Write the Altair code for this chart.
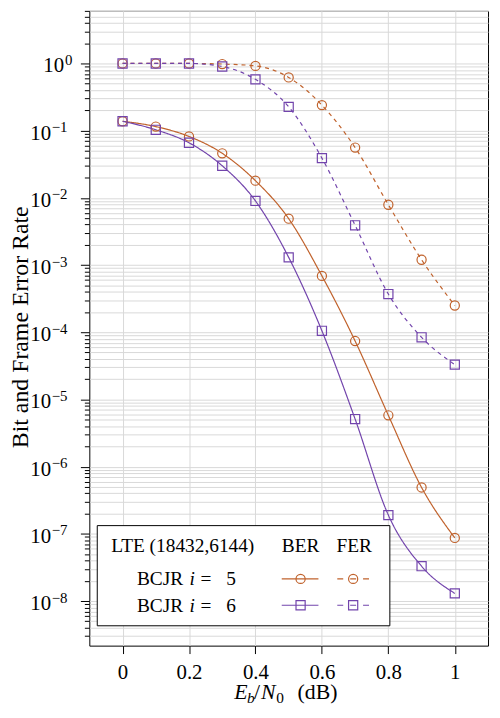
import altair as alt
import pandas as pd

# ---------------- data ----------------
ebn0 = [0.0, 0.1, 0.2, 0.3, 0.4, 0.5, 0.6, 0.7, 0.8, 0.9, 1.0]
ber_i5 = [0.138, 0.115, 0.082, 0.046, 0.018, 0.0049, 6.9e-4, 7.4e-5, 5.8e-6, 4.9e-7, 8.7e-8]
ber_i6 = [0.138, 0.103, 0.066, 0.030, 0.009, 0.0013, 1.05e-4, 5.1e-6, 1.9e-7, 3.3e-8, 1.3e-8]
fer_i5 = [1.0, 1.0, 1.0, 0.98, 0.92, 0.62, 0.24, 0.056, 0.0079, 0.0012, 2.5e-4]
fer_i6 = [1.0, 1.0, 1.0, 0.90, 0.58, 0.226, 0.039, 0.0039, 3.7e-4, 8.4e-5, 3.3e-5]
x_ticks = [0, 0.2, 0.4, 0.6, 0.8, 1.0]
decade_exps = [0, -1, -2, -3, -4, -5, -6, -7, -8]
legend_title = "LTE (18432,6144)"
legend_rows = ["5", "6"]

ORANGE = "#c0622c"
PURPLE = "#7244ac"
FONT = "Liberation Serif"
Y_LO, Y_HI = 2.17e-9, 6.06

rows = []
for code, metric, vals in [("i5", "BER", ber_i5), ("i6", "BER", ber_i6),
                           ("i5", "FER", fer_i5), ("i6", "FER", fer_i6)]:
    for x, v in zip(ebn0, vals):
        rows.append({"x": x, "v": v, "code": code, "metric": metric, "key": code + metric})
df = pd.DataFrame(rows)

lab = pd.DataFrame({"v": [10.0 ** e for e in decade_exps],
                    "sup": ["0" if e == 0 else "\u2212" + str(-e) for e in decade_exps],
                    "e": decade_exps})

minor_vals = []
for e in range(-9, 1):
    for k in range(1, 10):
        val = k * 10.0 ** e
        if Y_LO <= val <= Y_HI:
            minor_vals.append(val)

xs = alt.X("x:Q", scale=alt.Scale(domain=[-0.1, 1.1], nice=False, zero=False),
           axis=alt.Axis(values=x_ticks, title=None, format="~g", grid=True, domain=False,
                         tickSize=8, tickColor="black", labelPadding=8, labelFontSize=21,
                         labelFont=FONT, labelColor="black", gridColor="#d9d9d9"))
ys = alt.Y("v:Q", scale=alt.Scale(type="log", domain=[Y_LO, Y_HI], nice=False),
           axis=alt.Axis(values=minor_vals, labels=False, title=None, grid=True, domain=False,
                         tickColor="black", gridColor="#d9d9d9",
                         tickSize={"condition": {"test": "abs(log(datum.value)/LN10 - round(log(datum.value)/LN10)) < 0.001", "value": 9}, "value": 5}))

color = alt.Color("code:N", scale=alt.Scale(domain=["i5", "i6"], range=[ORANGE, PURPLE]), legend=None)
dash = alt.StrokeDash("metric:N", scale=alt.Scale(domain=["BER", "FER"], range=[[1, 0], [4, 4]]), legend=None)
shape = alt.Shape("code:N", scale=alt.Scale(domain=["i5", "i6"], range=["circle", "square"]), legend=None)

lines = alt.Chart(df).mark_line(interpolate="monotone", strokeWidth=1.2).encode(
    x=xs, y=ys, color=color, strokeDash=dash, detail="key:N")
points = alt.Chart(df).mark_point(filled=False, size=85, strokeWidth=1.2, opacity=1).encode(
    x=xs, y=ys, color=color, shape=shape)

# y tick labels 10^k
lab0 = alt.Chart(lab).transform_filter("datum.e == 0")
labn = alt.Chart(lab).transform_filter("datum.e < 0")
ten0 = lab0.mark_text(text="10", align="right", baseline="alphabetic", dy=9, font=FONT, fontSize=21, color="black").encode(
    x=alt.value(-25.5), y=ys)
sup0 = lab0.mark_text(align="left", baseline="alphabetic", dy=1.5, font=FONT, fontSize=15, color="black").encode(
    x=alt.value(-24.5), y=ys, text="sup:N")
tenn = labn.mark_text(text="10", align="right", baseline="alphabetic", dy=9, font=FONT, fontSize=21, color="black").encode(
    x=alt.value(-38.5), y=ys)
supn = labn.mark_text(align="left", baseline="alphabetic", dy=1.5, font=FONT, fontSize=15, color="black").encode(
    x=alt.value(-38), y=ys, text="sup:N")

one = pd.DataFrame({"d": [0]})


def txt(t, x, y, size=19.5, align="left", style="normal", angle=0):
    return alt.Chart(one).mark_text(text=t, align=align, baseline="alphabetic", font=FONT,
                                    fontSize=size, fontStyle=style, color="black", angle=angle).encode(
        x=alt.value(x), y=alt.value(y))


# y title
ytitle = txt("Bit and Frame Error Rate", -62, 319, size=24, align="center", angle=270)

# x title E_b/N_0 (dB)
XB = 694
xt = [
    txt("E", 146, XB, size=22, style="italic"),
    txt("b", 159, XB + 4, size=15.5, style="italic"),
    txt("/", 166, XB, size=22),
    txt("N", 173, XB, size=22, style="italic"),
    txt("0", 188.5, XB + 4, size=15.5),
    txt("(dB)", 210, XB, size=22),
]

# legend
box = alt.Chart(one).mark_rect(fill="white", stroke="black", strokeWidth=1).encode(
    x=alt.value(8), x2=alt.value(303), y=alt.value(519), y2=alt.value(620))
leg = [box,
       txt(legend_title, 22, 546),
       txt("BER", 213, 546, align="center"),
       txt("FER", 267, 546, align="center")]
row_y = [572.7, 599.3]
for r, (num, col, shp) in enumerate(zip(legend_rows, [ORANGE, PURPLE], ["circle", "square"])):
    yy = row_y[r]
    base_y = yy + 6.5
    leg += [
        txt("BCJR", 48, base_y),
        txt("i", 101, base_y, style="italic"),
        txt("=", 112, base_y),
        txt(num, 138, base_y),
        alt.Chart(one).mark_rule(color=col, strokeWidth=1.2).encode(
            x=alt.value(194), x2=alt.value(231), y=alt.value(yy)),
        alt.Chart(one).mark_rule(color=col, strokeWidth=1.2, strokeDash=[6, 7]).encode(
            x=alt.value(250), x2=alt.value(282), y=alt.value(yy)),
        alt.Chart(one).mark_point(shape=shp, filled=False, size=85, strokeWidth=1.2, color=col, opacity=1).encode(
            x=alt.value(213), y=alt.value(yy)),
        alt.Chart(one).mark_point(shape=shp, filled=False, size=85, strokeWidth=1.2, color=col, opacity=1).encode(
            x=alt.value(266), y=alt.value(yy)),
    ]

chart = alt.layer(lines, points, ten0, sup0, tenn, supn, ytitle, *xt, *leg).properties(
    width=402, height=640,
    padding={"left": 82, "top": 0, "right": 4, "bottom": 62},
    autosize=alt.AutoSizeParams(type="none"),
).configure_view(stroke="black", strokeWidth=1)

chart.save("out.html", embed_options={"renderer": "svg", "actions": False})
